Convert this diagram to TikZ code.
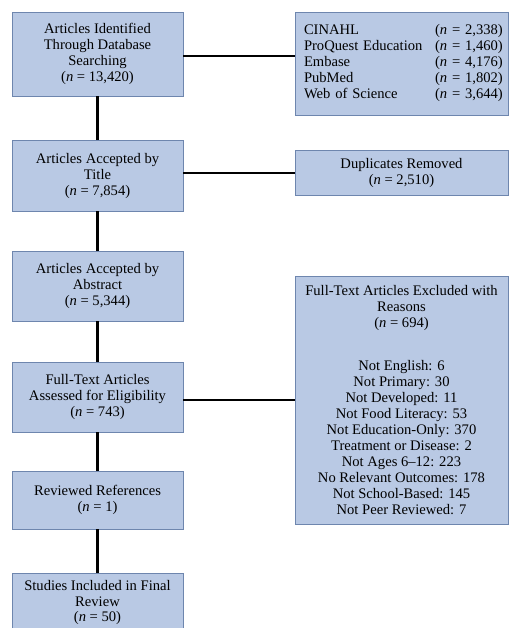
\documentclass[tikz,border=0pt]{standalone}
\usepackage{fontspec}
\setmainfont{Liberation Serif}
\newcommand{\nn}{\textit{n}}
\definecolor{boxfill}{HTML}{B9C9E4}
\definecolor{boxline}{HTML}{6E86AE}
\begin{document}
\begin{tikzpicture}[x=1pt,y=-1pt,
  box/.style={draw=boxline,line width=0.9pt,fill=boxfill,rectangle,align=center,inner sep=0pt,
    font=\fontsize{14.6}{16}\selectfont},
  conn/.style={line width=2.6pt,black}]
\useasboundingbox (0,0) rectangle (510,628);
\clip (0,0) rectangle (510,628);
\node[box,minimum width=171pt,minimum height=84pt] (b1) at (97.5,54) {Articles Identified\\Through Database\\Searching\\(\nn{} = 13,420)};
\node[box,minimum width=213pt,minimum height=103pt,text width=195pt,align=left] (db) at (401.5,63.5) {%
  \begin{tabular}{@{}p{131pt}@{}l@{}}
  CINAHL & (\nn{} = 2,338)\\
  ProQuest Education & (\nn{} = 1,460)\\
  Embase & (\nn{} = 4,176)\\
  PubMed & (\nn{} = 1,802)\\
  Web of Science & (\nn{} = 3,644)
  \end{tabular}};
\node[box,minimum width=171pt,minimum height=71pt] (b2) at (97.5,175.5) {Articles Accepted by\\Title\\(\nn{} = 7,854)};
\node[box,minimum width=213pt,minimum height=45pt] (dup) at (401.5,172.5) {Duplicates Removed\\(\nn{} = 2,510)};
\node[box,minimum width=171pt,minimum height=70pt] (b3) at (97.5,286) {Articles Accepted by\\Abstract\\(\nn{} = 5,344)};
\node[box,minimum width=171pt,minimum height=70pt] (b4) at (97.5,397) {Full-Text Articles\\Assessed for Eligibility\\(\nn{} = 743)};
\node[box,minimum width=213pt,minimum height=248pt] (ex) at (401.5,400) {Full-Text Articles Excluded with\\Reasons\\(\nn{} = 694)\\[27pt]
  Not English: 6\\Not Primary: 30\\Not Developed: 11\\Not Food Literacy: 53\\Not Education-Only: 370\\Treatment or Disease: 2\\Not Ages 6–12: 223\\No Relevant Outcomes: 178\\Not School-Based: 145\\Not Peer Reviewed: 7};
\node[box,minimum width=171pt,minimum height=72pt,anchor=north] (b6) at (97.5,573) {};
\node[font=\fontsize{14.6}{15.5}\selectfont,align=center,inner sep=0pt] (b6t) at (97.5,602.5) {Studies Included in Final\\Review\\(\nn{} = 50)};
\node[box,minimum width=171pt,minimum height=58pt] (b5) at (97.5,500) {Reviewed References\\(\nn{} = 1)};
\draw[conn] (b1.south) -- (b2.north);
\draw[conn] (b2.south) -- (b3.north);
\draw[conn] (b3.south) -- (b4.north);
\draw[conn] (b4.south) -- (b5.north);
\draw[conn] (b5.south) -- (b6.north);
\draw[conn] (b1.east |- 0,56) -- (db.west |- 0,56);
\draw[conn] (b2.east |- 0,173) -- (dup.west |- 0,173);
\draw[conn] (b4.east |- 0,400) -- (ex.west |- 0,400);
\end{tikzpicture}
\end{document}
